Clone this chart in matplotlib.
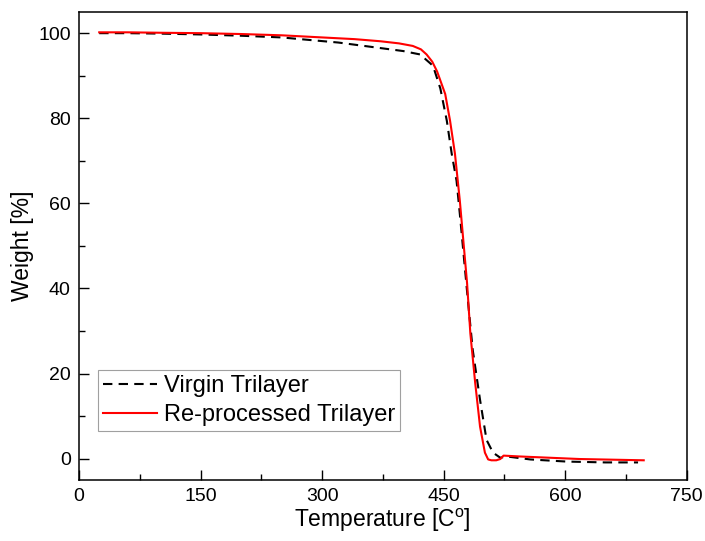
import matplotlib
matplotlib.use("Agg")
import matplotlib.pyplot as plt

# TGA curves
virgin_temp = [25, 60, 100, 150, 200, 250, 273, 320, 372, 400, 421, 433, 437,
               446, 454, 460, 466, 470, 480, 486, 495, 503, 511, 520, 528, 557,
               602, 650, 690]
virgin_weight = [100.0, 100.0, 99.9, 99.7, 99.4, 99.0, 98.6, 97.8, 96.5, 95.8,
                 95.0, 93.0, 92.3, 87.0, 79.4, 71.7, 65.3, 57.6, 37.2, 25.5,
                 13.8, 4.4, 1.4, 0.2, 0.5, -0.2, -0.7, -0.9, -0.9]

reproc_temp = [25, 60, 100, 150, 200, 250, 300, 340, 372, 395, 412, 422, 429,
               436, 442, 452, 458, 464, 470, 479, 483, 489, 495, 501, 505, 509,
               515, 520, 524, 544, 618, 697]
reproc_weight = [100.2, 100.2, 100.1, 100.0, 99.8, 99.5, 99.0, 98.6, 98.1,
                 97.6, 97.0, 96.2, 95.0, 93.3, 91.0, 85.7, 79.4, 71.7, 60.7,
                 41.2, 29.5, 17.8, 7.5, 1.4, -0.2, -0.4, -0.4, -0.1, 0.7, 0.5,
                 -0.1, -0.4]

x_ticks = [0, 150, 300, 450, 600, 750]
y_ticks = [0, 20, 40, 60, 80, 100]

plt.rcParams['font.family'] = ['Liberation Sans', 'DejaVu Sans']
plt.rcParams['mathtext.fontset'] = 'custom'
plt.rcParams['mathtext.rm'] = 'Liberation Sans'

fig = plt.figure(figsize=(7.05, 5.41), dpi=100)
ax = fig.add_axes([0.112, 0.113, 0.862, 0.865])

ax.plot(virgin_temp, virgin_weight, color='black', linestyle=(0, (4.5, 3)),
        linewidth=1.5, label='Virgin Trilayer')
ax.plot(reproc_temp, reproc_weight, color='red', linewidth=1.5,
        label='Re-processed Trilayer')

ax.set_xlim(0, 750)
ax.set_ylim(-5, 105)
ax.set_xticks(x_ticks)
ax.set_yticks(y_ticks)
ax.set_xticks([75, 225, 375, 525, 675], minor=True)
ax.set_yticks([10, 30, 50, 70, 90], minor=True)
ax.tick_params(which='major', direction='in', length=7, width=1,
               labelsize=14, pad=6)
ax.tick_params(which='minor', direction='in', length=4, width=1)
for s in ax.spines.values():
    s.set_linewidth(1.1)

ax.set_xlabel(r'Temperature [C$^\mathregular{o}$]', fontsize=16.5, labelpad=1)
ax.set_ylabel('Weight [%]', fontsize=16.5, labelpad=3)

leg = ax.legend(loc='lower left', bbox_to_anchor=(0.031, 0.105), fontsize=17,
                frameon=True, fancybox=False, edgecolor='#888888',
                handlelength=2.3, handletextpad=0.3, borderpad=0.2,
                labelspacing=0.3, borderaxespad=0)
leg.get_frame().set_linewidth(0.8)

fig.savefig('out.png', dpi=100)
